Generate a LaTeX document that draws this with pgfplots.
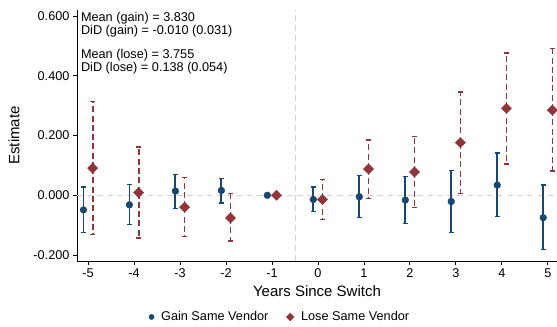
\documentclass[border=0pt]{standalone}
\usepackage{pgfplots}
\pgfplotsset{compat=1.18}
\usepackage{pgfplotstable}
\usepackage{fontspec}
\setmainfont{Liberation Sans}
\definecolor{stnavy}{RGB}{26,71,111}
\definecolor{stmaroon}{RGB}{144,53,59}
% x y lo hi
\pgfplotstableread{
x y lo hi
-5.1 -0.049 -0.125 0.028
-4.1 -0.032 -0.097 0.035
-3.1 0.014 -0.044 0.069
-2.1 0.016 -0.026 0.055
-1.1 0.000 0.000 0.000
-0.1 -0.014 -0.054 0.028
0.9 -0.005 -0.075 0.066
1.9 -0.016 -0.094 0.063
2.9 -0.021 -0.125 0.083
3.9 0.034 -0.071 0.141
4.9 -0.075 -0.181 0.034
}\gaintable
\pgfplotstableread{
x y lo hi
-4.9 0.091 -0.132 0.313
-3.9 0.009 -0.143 0.162
-2.9 -0.040 -0.138 0.059
-1.9 -0.076 -0.153 0.005
-0.9 0.000 0.000 0.000
0.1 -0.014 -0.082 0.053
1.1 0.088 -0.011 0.185
2.1 0.078 -0.041 0.197
3.1 0.176 0.007 0.346
4.1 0.291 0.105 0.476
5.1 0.285 0.081 0.490
}\losetable
\pgfplotstablecreatecol[expr={\thisrow{hi}-\thisrow{y}}]{ep}\gaintable
\pgfplotstablecreatecol[expr={\thisrow{y}-\thisrow{lo}}]{em}\gaintable
\pgfplotstablecreatecol[expr={\thisrow{hi}-\thisrow{y}}]{ep}\losetable
\pgfplotstablecreatecol[expr={\thisrow{y}-\thisrow{lo}}]{em}\losetable
\begin{document}
\begin{tikzpicture}[font=\fontsize{12.7}{13}\selectfont]
\begin{axis}[
  scale only axis, width=480pt, height=251pt,
  xmin=-5.24, xmax=5.2, ymin=-0.22, ymax=0.62,
  axis x line*=bottom, axis y line*=left,
  axis line style={-, black, line width=0.8pt},
  tick align=outside, major tick length=4pt,
  tick style={black, line width=0.8pt},
  xtick={-5,-4,-3,-2,-1,0,1,2,3,4,5},
  ytick={-0.2,0,0.2,0.4,0.6},
  scaled y ticks=false,
  /pgf/number format/assume math mode=true,
  yticklabel style={/pgf/number format/.cd, fixed, fixed zerofill, precision=3},
  xlabel={Years Since Switch}, ylabel={Estimate},
  label style={font=\fontsize{15}{18}\selectfont},
  xlabel style={at={(axis description cs:0.5,-0.12)}, anchor=center},
  ylabel style={at={(axis description cs:-0.131,0.5)}, anchor=center},
  legend style={at={(axis description cs:0.423,-0.223)}, anchor=center, draw=none,
    font=\fontsize{12.7}{13}\selectfont,
    /tikz/every even column/.append style={column sep=16pt}},
  legend columns=2,
]
\addplot[gray!35, dashed, dash pattern=on 6pt off 4pt, line width=0.7pt, forget plot] coordinates {(-5.24,0) (5.2,0)};
\addplot[gray!35, dashed, dash pattern=on 6pt off 4pt, line width=0.7pt, forget plot] coordinates {(-0.5,-0.22) (-0.5,0.62)};
\addplot[only marks, mark=*, mark size=3.4pt, color=stnavy,
  legend image post style={mark size=2.6pt},
  error bars/.cd, y dir=both, y explicit,
  error mark=|, error mark options={mark size=2.4pt, line width=1.3pt, stnavy},
  error bar style={line width=1.8pt, stnavy}]
  table[x=x, y=y, y error plus=ep, y error minus=em] {\gaintable};
\addlegendentry{\hspace{5pt}Gain Same Vendor}
\addplot[only marks, mark=square*, mark size=3.6pt, mark options={rotate=45}, color=stmaroon,
  legend image post style={mark size=2.7pt},
  error bars/.cd, y dir=both, y explicit,
  error mark=|, error mark options={mark size=2.4pt, line width=1.3pt, stmaroon, solid},
  error bar style={line width=1.8pt, stmaroon, dash pattern=on 6pt off 3.3pt}]
  table[x=x, y=y, y error plus=ep, y error minus=em] {\losetable};
\addlegendentry{\hspace{5pt}Lose Same Vendor}
\node[anchor=north west, align=left, inner sep=0pt, font=\fontsize{12.7}{13}\selectfont]
  at (rel axis cs:0.008,0.99)
  {Mean (gain) = 3.830\\DiD (gain) = -0.010 (0.031)\\[11pt]Mean (lose) = 3.755\\DiD (lose) = 0.138 (0.054)};
\end{axis}
\pgfresetboundingbox
\path[use as bounding box] ([xshift=-77pt,yshift=-66pt]current axis.south west) rectangle ([yshift=10pt]current axis.north east);
\end{tikzpicture}
\end{document}
